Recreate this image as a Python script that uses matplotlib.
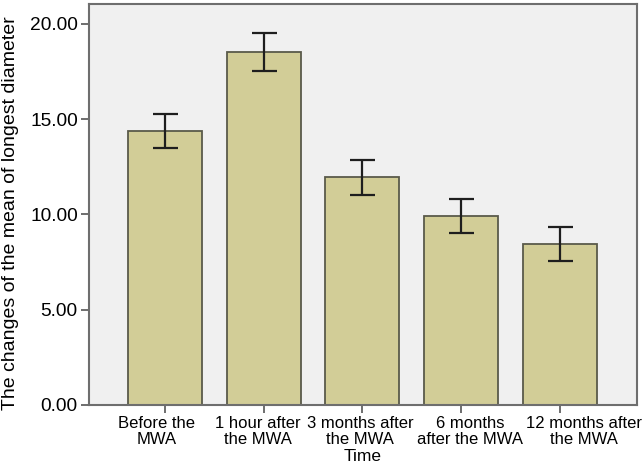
import matplotlib
matplotlib.use("Agg")
import matplotlib.pyplot as plt
from matplotlib.transforms import ScaledTranslation
import numpy as np

plt.rcParams['font.family'] = ['Liberation Sans', 'DejaVu Sans']

# data
categories = ["Before the\nMWA", "1 hour after\nthe MWA", "3 months after\nthe MWA",
              "6 months\nafter the MWA", "12 months after\nthe MWA"]
means = [14.38, 18.52, 11.96, 9.91, 8.45]
err = [0.90, 1.00, 0.92, 0.89, 0.87]
yticks = [0, 5, 10, 15, 20]
ytick_labels = ["0.00", "5.00", "10.00", "15.00", "20.00"]

fig = plt.figure(figsize=(6.44, 4.69), dpi=100)
ax = fig.add_axes([0.138, 0.1365, 0.851, 0.855])
ax.set_facecolor('#F0F0F0')

x = np.arange(len(categories))
ax.bar(x, means, width=0.75, color='#D2CD97', edgecolor='#5A5A4A', linewidth=1.3, zorder=2)
ax.errorbar(x, means, yerr=err, fmt='none', ecolor='#1E1E1E', elinewidth=1.6,
            capsize=9, capthick=1.6, zorder=3)

ax.set_xlim(-0.77, 4.78)
ax.set_ylim(0, 21.05)
ax.set_xticks(x)
ax.set_xticklabels(categories, fontsize=12.0, linespacing=1.05)
ax.set_yticks(yticks)
ax.set_yticklabels(ytick_labels, fontsize=13.8)
ax.tick_params(axis='both', length=6, width=1.2, color='#555555', pad=2)

# labels in the reference are spread out a little so they don't collide
shifts_px = [-8, -6, -2, 9, 24]
for lbl, dx in zip(ax.get_xticklabels(), shifts_px):
    lbl.set_transform(lbl.get_transform() + ScaledTranslation(dx / 100, 0, fig.dpi_scale_trans))

for side in ["top", "right", "left", "bottom"]:
    ax.spines[side].set_color('#6E6E6E')
    ax.spines[side].set_linewidth(1.5)

ax.set_xlabel("Time", fontsize=12.5, labelpad=2)
ax.set_ylabel("The changes of the mean of longest diameter", fontsize=14)
ax.yaxis.set_label_coords(-0.128, 0.479)

plt.savefig("out.png", dpi=100)
